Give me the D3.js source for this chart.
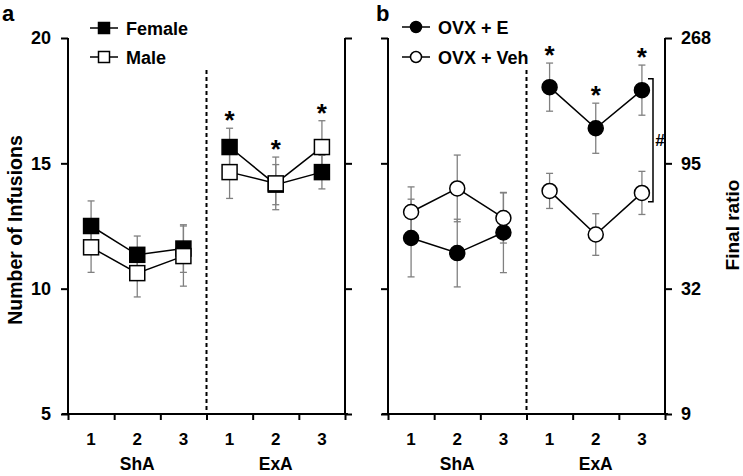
<!DOCTYPE html>
<html><head><meta charset="utf-8">
<script src="https://cdn.jsdelivr.net/npm/d3@7"></script>
<style>
body{margin:0;background:#fff;}
svg{display:block;font-family:"Liberation Sans",Arial,sans-serif;font-weight:bold;}
</style></head>
<body><svg id="c" width="743" height="476"></svg>
<script>
// ---- data ----
const categories = ["ShA1","ShA2","ShA3","ExA1","ExA2","ExA3"];
const tickLabels = ["1","2","3","1","2","3"];
const groups = ["ShA","ExA"];
const yTicks = [5,10,15,20];
const ratioLabels = ["9","32","95","268"];

const female    = [12.5, 11.35, 11.6, 15.65, 14.15, 14.65];
const femaleErr = [1.0, 0.75, 0.95, 0.75, 0.8, 0.67];
const male      = [11.65, 10.62, 11.3, 14.65, 14.2, 15.65];
const maleErr   = [1.0, 0.95, 1.2, 1.05, 1.05, 1.05];

const ovxE      = [12.02, 11.42, 12.24, 18.04, 16.4, 17.92];
const ovxEErr   = [1.55, 1.35, 1.6, 0.96, 1.0, 1.0];
const ovxVeh    = [13.06, 14.0, 12.82, 13.9, 12.16, 13.82];
const ovxVehErr = [1.0, 1.33, 1.0, 0.7, 0.83, 0.86];

const starsA = [15.65+0.75, 14.2+1.05, 15.65+1.05];
const starsB = [18.04+0.96, 16.4+1.0, 17.92+1.0];

// ---- layout ----
const svg = d3.select("#c");
const y = d3.scaleLinear().domain([5,20]).range([414,38]);
const W = 277;

function panel(x0, opts){
  const g = svg.append("g");
  const xb = d3.scaleBand().domain(categories).range([x0, x0+W]);
  const xl = d3.scaleLinear().domain([0,6]).range([x0, x0+W]);

  // x axis
  const ax = g.append("g").attr("transform","translate(0,414)")
    .call(d3.axisBottom(xl).tickValues(d3.range(7)).tickFormat("").tickSize(6).tickSizeOuter(0));
  ax.select(".domain").attr("d", `M${x0-6},0H${x0+W+3}`);
  ax.selectAll("path,line").attr("stroke","#000").attr("stroke-width",2);

  // x tick labels
  g.selectAll(".xl").data(categories).join("text")
    .attr("x", d=>xb(d)+xb.bandwidth()/2).attr("y",445)
    .attr("text-anchor","middle").attr("font-size",17).text((d,i)=>tickLabels[i]);
  g.selectAll(".gl").data(groups).join("text")
    .attr("x",(d,i)=>xl(1.5+3*i)).attr("y",470)
    .attr("text-anchor","middle").attr("font-size",17.5).text(d=>d);

  // left axis
  const la = g.append("g").attr("transform",`translate(${x0},0)`)
    .call(d3.axisLeft(y).tickValues(yTicks).tickSize(7).tickSizeOuter(0)
      .tickFormat(opts.leftLabels ? d3.format("d") : ""));
  la.select(".domain").attr("d","M0,38V414");
  la.selectAll("path,line").attr("stroke","#000").attr("stroke-width",2);
  la.selectAll("text").attr("font-size",18).attr("font-weight","bold").attr("font-family","Liberation Sans, Arial").attr("fill","#000").attr("dx",-7);

  // right axis
  const ra = g.append("g").attr("transform",`translate(${x0+W},0)`)
    .call(d3.axisRight(y).tickValues(yTicks).tickSize(7).tickSizeOuter(0)
      .tickFormat(opts.rightLabels ? ((d,i)=>opts.rightLabels[i]) : ""));
  ra.select(".domain").attr("d","M0,38V414");
  ra.selectAll("path,line").attr("stroke","#000").attr("stroke-width",2);
  ra.selectAll("text").attr("font-size",18).attr("font-weight","bold").attr("font-family","Liberation Sans, Arial").attr("fill","#000").attr("dx",6);

  // dashed separator
  g.append("line").attr("x1",xl(3)).attr("x2",xl(3)).attr("y1",70).attr("y2",414)
    .attr("stroke","#000").attr("stroke-width",2).attr("stroke-dasharray","4,3");

  const cx = d => xb(d)+xb.bandwidth()/2;

  // error bars
  opts.series.forEach(s=>{
    const eb = g.append("g").attr("stroke","#808080").attr("stroke-width",1.3);
    categories.forEach((c,i)=>{
      const x = cx(c), t = y(s.v[i]+s.e[i]), b = y(s.v[i]-s.e[i]);
      eb.append("line").attr("x1",x).attr("x2",x).attr("y1",t).attr("y2",b);
      eb.append("line").attr("x1",x-3.5).attr("x2",x+3.5).attr("y1",t).attr("y2",t);
      eb.append("line").attr("x1",x-3.5).attr("x2",x+3.5).attr("y1",b).attr("y2",b);
    });
  });
  // lines
  const line = d3.line().x(d=>cx(d.c)).y(d=>y(d.v));
  opts.series.forEach(s=>{
    [[0,3],[3,6]].forEach(([a,b])=>{
      const pts = categories.slice(a,b).map((c,k)=>({c, v:s.v[a+k]}));
      g.append("path").attr("d",line(pts)).attr("fill","none").attr("stroke","#000").attr("stroke-width",1.5);
    });
  });
  // markers
  opts.series.forEach(s=>{
    categories.forEach((c,i)=>{
      drawMarker(g, opts.shape, cx(c), y(s.v[i]), s.fill, 15);
    });
  });
  // stars
  g.selectAll(".st").data(opts.stars).join("text")
    .attr("x",(d,i)=>cx(categories[3+i])).attr("y",d=>y(d)+1)
    .attr("text-anchor","middle").attr("font-size",26).text("*");
  return {xb, xl, cx};
}

function drawMarker(g, shape, x, yy, fill, s){
  if(shape==="square"){
    g.append("rect").attr("x",x-s/2).attr("y",yy-s/2).attr("width",s).attr("height",s)
      .attr("fill",fill).attr("stroke","#000").attr("stroke-width",1.5);
  } else {
    g.append("circle").attr("cx",x).attr("cy",yy).attr("r",s/2)
      .attr("fill",fill).attr("stroke","#000").attr("stroke-width",1.5);
  }
}

const pa = panel(68, {
  leftLabels:true, rightLabels:null, shape:"square",
  series:[{v:female,e:femaleErr,fill:"#000"},{v:male,e:maleErr,fill:"#fff"}],
  stars:starsA
});
const pb = panel(388, {
  leftLabels:false, rightLabels:ratioLabels, shape:"circle",
  series:[{v:ovxE,e:ovxEErr,fill:"#000"},{v:ovxVeh,e:ovxVehErr,fill:"#fff"}],
  stars:starsB
});

// bracket + #
const bx = 653, bt = y(ovxE[5]+0.45), bb = y(ovxVeh[5]-0.35);
svg.append("path").attr("d",`M${bx-5},${bt}H${bx}V${bb}H${bx-5}`)
  .attr("fill","none").attr("stroke","#000").attr("stroke-width",1.5);
svg.append("text").attr("x",660).attr("y",(bt+bb)/2+6).attr("text-anchor","middle")
  .attr("font-size",17).text("#");

// legends
function legend(x, yy, shape, fill, label){
  svg.append("line").attr("x1",x).attr("x2",x+28).attr("y1",yy).attr("y2",yy)
    .attr("stroke","#000").attr("stroke-width",1.5);
  drawMarker(svg, shape, x+14, yy, fill, 11);
  svg.append("text").attr("x",x+36).attr("y",yy+6.5).attr("font-size",18).text(label);
}
legend(90, 28, "square", "#000", "Female");
legend(90, 57, "square", "#fff", "Male");
legend(402, 27, "circle", "#000", "OVX + E");
legend(402, 57, "circle", "#fff", "OVX + Veh");

// panel letters
svg.append("text").attr("x",2).attr("y",21).attr("font-size",22).text("a");
svg.append("text").attr("x",376).attr("y",21).attr("font-size",22).text("b");

// axis titles
svg.append("text").attr("transform","translate(22,230) rotate(-90)")
  .attr("text-anchor","middle").attr("font-size",19.5).text("Number of Infusions");
svg.append("text").attr("transform","translate(739,225) rotate(-90)")
  .attr("text-anchor","middle").attr("font-size",19).text("Final ratio");
</script></body></html>
